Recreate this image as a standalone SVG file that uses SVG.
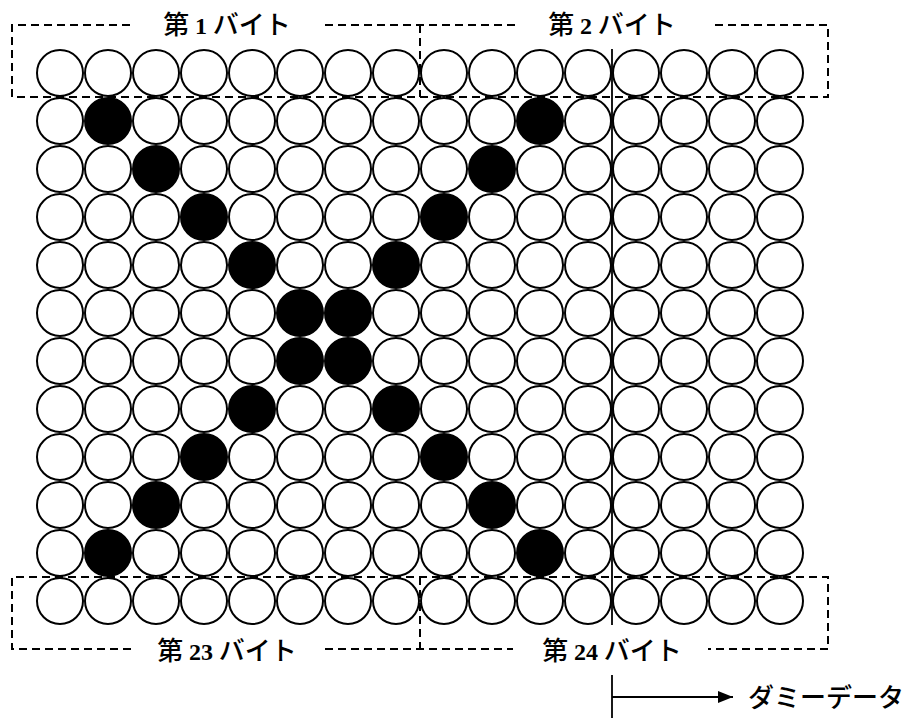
<svg xmlns="http://www.w3.org/2000/svg" xmlns:xlink="http://www.w3.org/1999/xlink" width="908" height="718" viewBox="0 0 908 718">
<style>
.c{fill:#fff;stroke:#000;stroke-width:2}
.b{fill:#000;stroke:#000;stroke-width:2}
.d{fill:none;stroke:#000;stroke-width:2;stroke-dasharray:8 5}
.s{fill:none;stroke:#000;stroke-width:1.8}
.lbl{font-family:"Noto Sans CJK JP","Noto Sans",sans-serif;font-weight:500;font-size:26px;fill:#000;text-anchor:middle}
.num{font-family:"Liberation Serif",serif;font-weight:bold;font-size:24px}
.dm{font-family:"Noto Sans CJK JP","Noto Sans",sans-serif;font-weight:500;font-size:26px;fill:#000}
</style>
<defs>
<circle id="w" r="23" class="c"/>
<circle id="k" r="23" class="b"/>
<marker id="ah" markerWidth="16" markerHeight="12" refX="15" refY="6" orient="auto" markerUnits="userSpaceOnUse">
<path d="M0,0 L15,6 L0,12 Z" fill="#000"/>
</marker>
</defs>
<rect width="908" height="718" fill="#fff"/>
<g id="grid">
<g id="row0" transform="translate(0,73)"><use href="#w" x="60"/><use href="#w" x="108"/><use href="#w" x="156"/><use href="#w" x="204"/><use href="#w" x="252"/><use href="#w" x="300"/><use href="#w" x="348"/><use href="#w" x="396"/><use href="#w" x="444"/><use href="#w" x="492"/><use href="#w" x="540"/><use href="#w" x="588"/><use href="#w" x="636"/><use href="#w" x="684"/><use href="#w" x="732"/><use href="#w" x="780"/></g>
<g id="row1" transform="translate(0,121)"><use href="#w" x="60"/><use href="#k" x="108"/><use href="#w" x="156"/><use href="#w" x="204"/><use href="#w" x="252"/><use href="#w" x="300"/><use href="#w" x="348"/><use href="#w" x="396"/><use href="#w" x="444"/><use href="#w" x="492"/><use href="#k" x="540"/><use href="#w" x="588"/><use href="#w" x="636"/><use href="#w" x="684"/><use href="#w" x="732"/><use href="#w" x="780"/></g>
<g id="row2" transform="translate(0,169)"><use href="#w" x="60"/><use href="#w" x="108"/><use href="#k" x="156"/><use href="#w" x="204"/><use href="#w" x="252"/><use href="#w" x="300"/><use href="#w" x="348"/><use href="#w" x="396"/><use href="#w" x="444"/><use href="#k" x="492"/><use href="#w" x="540"/><use href="#w" x="588"/><use href="#w" x="636"/><use href="#w" x="684"/><use href="#w" x="732"/><use href="#w" x="780"/></g>
<g id="row3" transform="translate(0,217)"><use href="#w" x="60"/><use href="#w" x="108"/><use href="#w" x="156"/><use href="#k" x="204"/><use href="#w" x="252"/><use href="#w" x="300"/><use href="#w" x="348"/><use href="#w" x="396"/><use href="#k" x="444"/><use href="#w" x="492"/><use href="#w" x="540"/><use href="#w" x="588"/><use href="#w" x="636"/><use href="#w" x="684"/><use href="#w" x="732"/><use href="#w" x="780"/></g>
<g id="row4" transform="translate(0,265)"><use href="#w" x="60"/><use href="#w" x="108"/><use href="#w" x="156"/><use href="#w" x="204"/><use href="#k" x="252"/><use href="#w" x="300"/><use href="#w" x="348"/><use href="#k" x="396"/><use href="#w" x="444"/><use href="#w" x="492"/><use href="#w" x="540"/><use href="#w" x="588"/><use href="#w" x="636"/><use href="#w" x="684"/><use href="#w" x="732"/><use href="#w" x="780"/></g>
<g id="row5" transform="translate(0,313)"><use href="#w" x="60"/><use href="#w" x="108"/><use href="#w" x="156"/><use href="#w" x="204"/><use href="#w" x="252"/><use href="#k" x="300"/><use href="#k" x="348"/><use href="#w" x="396"/><use href="#w" x="444"/><use href="#w" x="492"/><use href="#w" x="540"/><use href="#w" x="588"/><use href="#w" x="636"/><use href="#w" x="684"/><use href="#w" x="732"/><use href="#w" x="780"/></g>
<g id="row6" transform="translate(0,361)"><use href="#w" x="60"/><use href="#w" x="108"/><use href="#w" x="156"/><use href="#w" x="204"/><use href="#w" x="252"/><use href="#k" x="300"/><use href="#k" x="348"/><use href="#w" x="396"/><use href="#w" x="444"/><use href="#w" x="492"/><use href="#w" x="540"/><use href="#w" x="588"/><use href="#w" x="636"/><use href="#w" x="684"/><use href="#w" x="732"/><use href="#w" x="780"/></g>
<g id="row7" transform="translate(0,409)"><use href="#w" x="60"/><use href="#w" x="108"/><use href="#w" x="156"/><use href="#w" x="204"/><use href="#k" x="252"/><use href="#w" x="300"/><use href="#w" x="348"/><use href="#k" x="396"/><use href="#w" x="444"/><use href="#w" x="492"/><use href="#w" x="540"/><use href="#w" x="588"/><use href="#w" x="636"/><use href="#w" x="684"/><use href="#w" x="732"/><use href="#w" x="780"/></g>
<g id="row8" transform="translate(0,457)"><use href="#w" x="60"/><use href="#w" x="108"/><use href="#w" x="156"/><use href="#k" x="204"/><use href="#w" x="252"/><use href="#w" x="300"/><use href="#w" x="348"/><use href="#w" x="396"/><use href="#k" x="444"/><use href="#w" x="492"/><use href="#w" x="540"/><use href="#w" x="588"/><use href="#w" x="636"/><use href="#w" x="684"/><use href="#w" x="732"/><use href="#w" x="780"/></g>
<g id="row9" transform="translate(0,505)"><use href="#w" x="60"/><use href="#w" x="108"/><use href="#k" x="156"/><use href="#w" x="204"/><use href="#w" x="252"/><use href="#w" x="300"/><use href="#w" x="348"/><use href="#w" x="396"/><use href="#w" x="444"/><use href="#k" x="492"/><use href="#w" x="540"/><use href="#w" x="588"/><use href="#w" x="636"/><use href="#w" x="684"/><use href="#w" x="732"/><use href="#w" x="780"/></g>
<g id="row10" transform="translate(0,553)"><use href="#w" x="60"/><use href="#k" x="108"/><use href="#w" x="156"/><use href="#w" x="204"/><use href="#w" x="252"/><use href="#w" x="300"/><use href="#w" x="348"/><use href="#w" x="396"/><use href="#w" x="444"/><use href="#w" x="492"/><use href="#k" x="540"/><use href="#w" x="588"/><use href="#w" x="636"/><use href="#w" x="684"/><use href="#w" x="732"/><use href="#w" x="780"/></g>
<g id="row11" transform="translate(0,601)"><use href="#w" x="60"/><use href="#w" x="108"/><use href="#w" x="156"/><use href="#w" x="204"/><use href="#w" x="252"/><use href="#w" x="300"/><use href="#w" x="348"/><use href="#w" x="396"/><use href="#w" x="444"/><use href="#w" x="492"/><use href="#w" x="540"/><use href="#w" x="588"/><use href="#w" x="636"/><use href="#w" x="684"/><use href="#w" x="732"/><use href="#w" x="780"/></g>
</g>
<g id="byte-frames">
<path class="d" d="M130,25 H12 V97 H828 V25 H712 M325,25 H515 M420,25 V97"/>
<path class="d" d="M131,649 H12 V577 H828 V649 H708 M325,649 H513 M420,577 V649"/>
</g>
<g id="connectors">
<path class="s" d="M612,49 V625"/>
<path class="s" d="M612,675 V718"/>
<path class="s" d="M612,697 H733" marker-end="url(#ah)"/>
</g>
<g id="labels">
<text id="byte1" class="lbl" x="227" y="34">第 <tspan class="num">1</tspan> バイト</text>
<text id="byte2" class="lbl" x="612" y="34">第 <tspan class="num">2</tspan> バイト</text>
<text id="byte23" class="lbl" x="227" y="660">第 <tspan class="num">23</tspan> バイト</text>
<text id="byte24" class="lbl" x="612" y="660">第 <tspan class="num">24</tspan> バイト</text>
<text id="dummy" class="dm" x="748" y="707">ダミーデータ</text>
</g>
</svg>
